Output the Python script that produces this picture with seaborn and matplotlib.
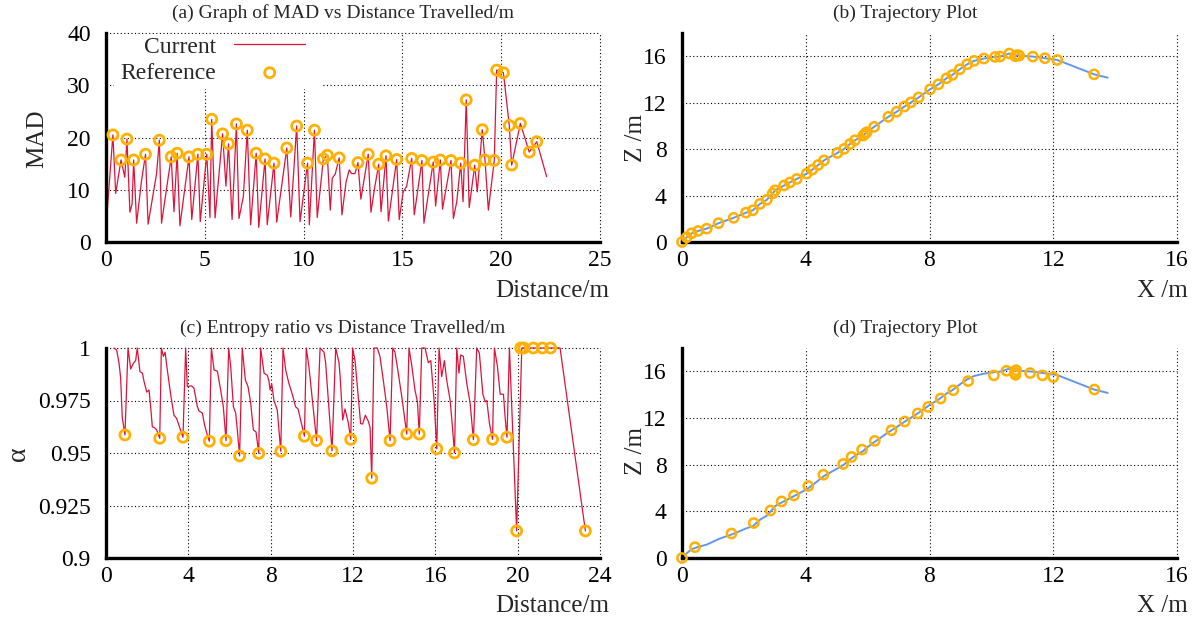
import numpy as np
import seaborn as sns
import matplotlib.pyplot as plt
from matplotlib.patches import Rectangle

# ============================================================
# DATA
# ============================================================
# (a) MAD vs distance
mad_dist = [0.0, 0.35, 0.49, 0.76, 0.95, 1.06, 1.21, 1.32, 1.40, 1.55, 1.79, 2.0, 2.13,
            2.56, 2.7, 2.81, 3.3, 3.44, 3.6, 3.74, 4.2, 4.34, 4.65, 4.77, 5.1, 5.26,
            5.35, 5.52, 5.9, 6.07, 6.2, 6.38, 6.6, 6.73, 6.95, 7.15, 7.32, 7.6, 7.73,
            8.05, 8.16, 8.5, 8.64, 9.15, 9.35, 9.65, 9.82, 10.2, 10.29, 10.55, 10.69,
            11.0, 11.2, 11.35, 11.45, 11.6, 11.8, 11.94, 12.15, 12.31, 12.43, 12.6,
            12.75, 12.9, 13.27, 13.41, 13.58, 13.8, 13.92, 14.17, 14.29, 14.71, 14.84,
            15.04, 15.21, 15.47, 15.6, 15.99, 16.09, 16.56, 16.68, 16.92, 17.03, 17.46,
            17.58, 17.75, 17.95, 18.07, 18.23, 18.38, 18.66, 18.79, 19.04, 19.18, 19.35,
            19.52, 19.65, 19.77, 20.11, 20.41, 20.53, 20.97, 21.42, 21.8, 22.3]
mad_val = [2.9, 20.5, 9.3, 15.7, 12.4, 19.7, 5.7, 7.3, 15.7, 3.6, 11.5, 16.8, 3.4,
           13.1, 19.5, 3.6, 16.3, 5.8, 17.0, 3.1, 16.3, 4.3, 16.8, 3.9, 16.8, 4.7,
           23.5, 4.6, 20.7, 10.7, 18.8, 4.3, 22.6, 4.5, 8.7, 21.4, 3.3, 17.0, 2.8,
           15.9, 3.3, 15.1, 3.8, 18.0, 4.8, 22.2, 3.9, 15.1, 3.3, 21.4, 4.7,
           15.9, 16.6, 6.1, 12.2, 13.0, 16.1, 5.2, 11.5, 13.8, 13.1, 13.1,
           15.2, 8.2, 16.8, 5.7, 10.0, 14.9, 5.8, 16.5, 4.0, 15.8, 4.3,
           9.6, 10.6, 16.0, 5.2, 15.6, 3.6, 15.3, 6.9, 15.7, 6.3, 15.6,
           4.5, 7.7, 15.1, 7.7, 27.2, 6.6, 14.7, 9.6, 21.5, 15.7, 6.1,
           11.5, 15.6, 32.9, 32.4, 22.3, 14.7, 22.7, 17.2, 19.2, 12.5]
mad_ref_dist = [0.35, 0.76, 1.06, 1.40, 2.0, 2.7, 3.3, 3.6, 4.2, 4.65, 5.1, 5.35, 5.9,
                6.2, 6.6, 7.15, 7.6, 8.05, 8.5, 9.15, 9.65, 10.2, 10.55, 11.0, 11.2,
                11.8, 12.75, 13.27, 13.8, 14.17, 14.71, 15.47, 15.99, 16.56, 16.92,
                17.46, 17.95, 18.23, 18.66, 19.04, 19.18, 19.65, 19.77, 20.11, 20.41,
                20.53, 20.97, 21.42, 21.8]
mad_ref_val = [20.5, 15.7, 19.7, 15.7, 16.8, 19.5, 16.3, 17.0, 16.3, 16.8, 16.8, 23.5, 20.7,
               18.8, 22.6, 21.4, 17.0, 15.9, 15.1, 18.0, 22.2, 15.1, 21.4, 15.9, 16.6,
               16.1, 15.2, 16.8, 14.9, 16.5, 15.8, 16.0, 15.6, 15.3, 15.7,
               15.6, 15.1, 27.2, 14.7, 21.5, 15.7, 15.6, 32.9, 32.4, 22.3,
               14.7, 22.7, 17.2, 19.2]

# (c) entropy ratio vs distance
ent_dist = [0.39, 0.52, 0.63, 0.71, 0.79, 0.92,
            1.07, 1.2, 1.33, 1.44, 1.52, 1.65, 1.77, 1.85, 1.98, 2.09, 2.17, 2.25, 2.36, 2.46, 2.61,
            2.69, 2.79, 2.87, 2.98, 3.14, 3.3, 3.43, 3.74,
            3.87, 3.95, 4.15, 4.27, 4.44, 4.52, 4.68, 4.79, 4.92, 5.02,
            5.12, 5.25, 5.41, 5.57, 5.70, 5.83,
            5.96, 6.06, 6.19, 6.3, 6.38, 6.49,
            6.62, 6.77, 6.9, 7.03, 7.16, 7.29, 7.42,
            7.51, 7.68, 7.84, 7.92, 7.97, 8.05, 8.16, 8.32, 8.49,
            8.6, 8.73, 8.89, 9.05, 9.21, 9.33, 9.64,
            9.73, 9.86, 10.23,
            10.4, 10.59, 10.67, 10.98,
            11.16, 11.32, 11.37, 11.5, 11.61, 11.78, 11.89,
            11.98, 12.1, 12.21, 12.37, 12.47, 12.6, 12.75, 12.83, 12.91,
            13.02, 13.18, 13.31, 13.47, 13.64, 13.80,
            13.93, 14.04, 14.2, 14.37, 14.61,
            14.72, 14.85, 15.01, 15.13, 15.22,
            15.34, 15.5, 15.66, 15.78, 15.94, 16.07,
            16.18, 16.31, 16.44, 16.55, 16.72, 16.83, 16.93,
            17.04, 17.15, 17.23, 17.36, 17.53, 17.69, 17.85,
            18.01, 18.14, 18.31, 18.42, 18.50, 18.63, 18.78,
            18.87, 19.02, 19.15, 19.31, 19.39, 19.48,
            19.6, 19.95, 20.2, 22.06, 23.29]
ent_val = [1.0, 0.999, 0.993, 0.986, 0.967, 0.9586,
           1.0, 0.990, 0.9927, 0.994, 1.0, 0.9887, 0.988, 0.984, 0.979, 0.980, 0.972, 0.9625, 0.962, 0.961, 0.957,
           1.0, 0.996, 0.998, 0.9895, 0.978, 0.968, 0.9665, 0.9575,
           1.0, 0.9816, 0.982, 0.981, 0.972, 0.970, 0.969, 0.9633, 0.9586, 0.9556,
           1.0, 0.9895, 0.989, 0.980, 0.972, 0.9559,
           1.0, 0.991, 0.972, 0.969, 0.961, 0.9486,
           1.0, 0.9848, 0.9816, 0.9737, 0.961, 0.960, 0.9498,
           1.0, 0.988, 0.987, 0.984, 0.980, 0.983, 0.975, 0.9705, 0.9508,
           1.0, 0.9895, 0.983, 0.978, 0.972, 0.971, 0.958,
           1.0, 0.991, 0.9559,
           1.0, 0.998, 0.993, 0.951,
           1.0, 0.993, 0.987, 0.9657, 0.971, 0.964, 0.9565,
           1.0, 0.994, 0.9816, 0.964, 0.9638, 0.968, 0.965, 0.962, 0.938,
           1.0, 1.0, 0.996, 0.9848, 0.972, 0.9559,
           1.0, 0.998, 0.988, 0.9768, 0.959,
           1.0, 0.992, 0.980, 0.9744, 0.959,
           1.0, 1.0, 0.993, 0.994, 0.975, 0.952,
           1.0, 0.9864, 0.994, 0.9848, 0.975, 0.9625, 0.950,
           1.0, 0.988, 0.9967, 0.996, 0.983, 0.9737, 0.9563,
           1.0, 0.9975, 0.978, 0.9744, 0.975, 0.964, 0.9565,
           1.0, 0.991, 0.978, 0.978, 0.967, 0.9575,
           1.0, 0.9129, 1.0, 1.0, 0.9129]
ent_ref_dist = [0.92, 2.61, 3.74, 5.02, 5.83, 6.49, 7.42, 8.49, 9.64, 10.23, 10.98, 11.89,
                12.91, 13.80, 14.61, 15.22, 16.07, 16.93, 17.85, 18.78, 19.48, 19.95,
                20.15, 20.3, 20.76, 21.2, 21.6, 23.29]
ent_ref_val = [0.9586, 0.957, 0.9575, 0.9556, 0.9559, 0.9486, 0.9498, 0.9508, 0.958, 0.9559,
               0.951, 0.9565, 0.938, 0.9559, 0.959, 0.959, 0.952, 0.950, 0.9563, 0.9565,
               0.9575, 0.9129, 1.0, 1.0, 1.0, 1.0, 1.0, 0.9129]

# (b) / (d) trajectory
traj_x = [0.0, 0.15, 0.31, 0.52, 0.80, 1.18, 1.67, 2.07, 2.29, 2.52, 2.74, 2.93, 3.01,
          3.30, 3.49, 3.71, 4.03, 4.21, 4.40, 4.59, 5.02, 5.24, 5.43, 5.59, 5.86, 5.92,
          5.97, 6.21, 6.67, 6.94, 7.19, 7.40, 7.65, 8.02, 8.29, 8.55, 8.74, 8.98, 9.22,
          9.44, 9.76, 10.12, 10.28, 10.58, 10.77, 10.85, 10.9, 11.34, 11.73, 12.13,
          13.32, 13.76]
traj_z = [0.0, 0.4, 0.75, 0.95, 1.15, 1.62, 2.08, 2.53, 2.73, 3.28, 3.63, 4.18, 4.45,
          4.87, 5.13, 5.43, 5.89, 6.23, 6.63, 7.03, 7.67, 8.02, 8.44, 8.76, 9.17, 9.34,
          9.45, 9.92, 10.78, 11.22, 11.67, 12.02, 12.45, 13.15, 13.58, 14.1, 14.39, 14.88,
          15.31, 15.6, 15.8, 15.94, 15.97, 16.23, 16.0, 16.1, 16.05, 15.97, 15.83, 15.68,
          14.44, 14.15]
b_ref_x = traj_x[:-1]
b_ref_z = traj_z[:-1]
d_ref_x = [0.0, 0.42, 1.60, 2.32, 2.86, 3.22, 3.62, 4.08, 4.57, 5.21, 5.48, 5.82, 6.23,
           6.77, 7.2, 7.62, 7.96, 8.36, 8.77, 9.25, 10.08, 10.49, 10.76, 10.8, 10.78,
           11.25, 11.65, 12.0, 13.33]
d_ref_z = [0.0, 0.93, 2.1, 3.0, 4.07, 4.85, 5.36, 6.17, 7.14, 8.06, 8.66, 9.29, 10.04,
           10.95, 11.7, 12.39, 12.95, 13.67, 14.38, 15.16, 15.65, 16.05, 15.9, 16.1, 15.7,
           15.85, 15.65, 15.5, 14.44]

RED = "#DC143C"
ORANGE = "#FFB000"
BLUE = "#6495ED"

# ============================================================
# STYLE
# ============================================================
sns.set_theme(style="white")
plt.rcParams["font.family"] = ["Liberation Serif", "DejaVu Serif"]

W, H = 1204, 619
fig = plt.figure(figsize=(W / 100, H / 100), dpi=100)


def px_axes(x0, y0, x1, y1):
    return fig.add_axes([x0 / W, 1 - y1 / H, (x1 - x0) / W, (y1 - y0) / H])


def fig_text(px, py, s, **kw):
    fig.text(px / W, 1 - py / H, s, ha="center", va="center", **kw)


def style_axes(ax, xticks, yticks, xlim, ylim, yfmt=None):
    ax.set_xlim(*xlim)
    ax.set_ylim(*ylim)
    ax.set_xticks(xticks)
    ax.set_yticks(yticks)
    if yfmt is not None:
        ax.set_yticklabels(yfmt)
    for side in ["top", "right"]:
        ax.spines[side].set_visible(False)
    for side in ["left", "bottom"]:
        ax.spines[side].set_linewidth(2.4)
        ax.spines[side].set_color("black")
    ax.tick_params(direction="in", length=5, width=2.2, colors="black", labelsize=17)
    ax.tick_params(axis="x", pad=6)
    ax.tick_params(axis="y", pad=11)
    ax.grid(True, color="black", linestyle=(0, (1, 2.2)), linewidth=0.8)
    ax.set_axisbelow(True)
    for gl in ax.get_xgridlines() + ax.get_ygridlines():
        gl.set_clip_on(False)
    ax.set_xlabel("")
    ax.set_ylabel("")


# ============================================================
# (a) MAD
# ============================================================
ax_a = px_axes(106, 33, 600, 242)
sns.lineplot(x=mad_dist, y=mad_val, ax=ax_a, color=RED, linewidth=0.9,
             sort=False, estimator=None, label="Current")
sns.scatterplot(x=mad_ref_dist, y=mad_ref_val, ax=ax_a, marker="o", s=52,
                facecolor="none", edgecolor=ORANGE, linewidth=2.0, zorder=3,
                label="Reference")
style_axes(ax_a, [0, 5, 10, 15, 20, 25], [0, 10, 20, 30, 40], (0, 25), (0, 40))
ax_a.add_patch(Rectangle((0.016, 0.732), 0.421, 0.261, transform=ax_a.transAxes,
                         facecolor="white", edgecolor="none", zorder=1))
ax_a.legend(loc="upper left", bbox_to_anchor=(0.030, 0.985), frameon=False,
            markerfirst=False, fontsize=17, handlelength=3.0, handletextpad=0.75,
            labelspacing=0.2, borderpad=0, borderaxespad=0)

# ============================================================
# (b) trajectory
# ============================================================
ax_b = px_axes(682, 33, 1177, 242)
sns.lineplot(x=traj_x, y=traj_z, ax=ax_b, color=BLUE, linewidth=1.4,
             sort=False, estimator=None)
sns.scatterplot(x=b_ref_x, y=b_ref_z, ax=ax_b, marker="o", s=44,
                facecolor="none", edgecolor=ORANGE, linewidth=1.8, zorder=3,
                clip_on=False)
style_axes(ax_b, [0, 4, 8, 12, 16], [0, 4, 8, 12, 16], (0, 16), (0, 18))

# ============================================================
# (c) entropy ratio
# ============================================================
ax_c = px_axes(106, 348, 600, 558)
sns.lineplot(x=ent_dist, y=ent_val, ax=ax_c, color=RED, linewidth=0.9,
             sort=False, estimator=None, clip_on=False)
sns.scatterplot(x=ent_ref_dist, y=ent_ref_val, ax=ax_c, marker="o", s=52,
                facecolor="none", edgecolor=ORANGE, linewidth=2.0, zorder=3,
                clip_on=False)
style_axes(ax_c, [0, 4, 8, 12, 16, 20, 24], [0.9, 0.925, 0.95, 0.975, 1.0],
           (0, 24), (0.9, 1.0), yfmt=["0.9", "0.925", "0.95", "0.975", "1"])

# ============================================================
# (d) trajectory
# ============================================================
ax_d = px_axes(682, 348, 1177, 558)
sns.lineplot(x=traj_x, y=traj_z, ax=ax_d, color=BLUE, linewidth=1.4,
             sort=False, estimator=None)
sns.scatterplot(x=d_ref_x, y=d_ref_z, ax=ax_d, marker="o", s=44,
                facecolor="none", edgecolor=ORANGE, linewidth=1.8, zorder=3,
                clip_on=False)
style_axes(ax_d, [0, 4, 8, 12, 16], [0, 4, 8, 12, 16], (0, 16), (0, 18))

# ============================================================
# TEXT
# ============================================================
fig_text(343, 13, "(a) Graph of MAD vs Distance Travelled/m", fontsize=14)
fig_text(905, 13, "(b) Trajectory Plot", fontsize=14)
fig_text(343, 328, "(c) Entropy ratio vs Distance Travelled/m", fontsize=14)
fig_text(905, 328, "(d) Trajectory Plot", fontsize=14)

fig_text(37, 139, "MAD", fontsize=18, rotation=90)
fig_text(19, 454, "α", fontsize=20, rotation=90)
fig_text(636, 138, "Z /m", fontsize=18, rotation=90)
fig_text(636, 451, "Z /m", fontsize=18, rotation=90)

fig_text(552, 291, "Distance/m", fontsize=18)
fig_text(552, 606, "Distance/m", fontsize=18)
fig_text(1162, 291, "X /m", fontsize=18)
fig_text(1162, 606, "X /m", fontsize=18)

fig.savefig("out.png", dpi=100)
